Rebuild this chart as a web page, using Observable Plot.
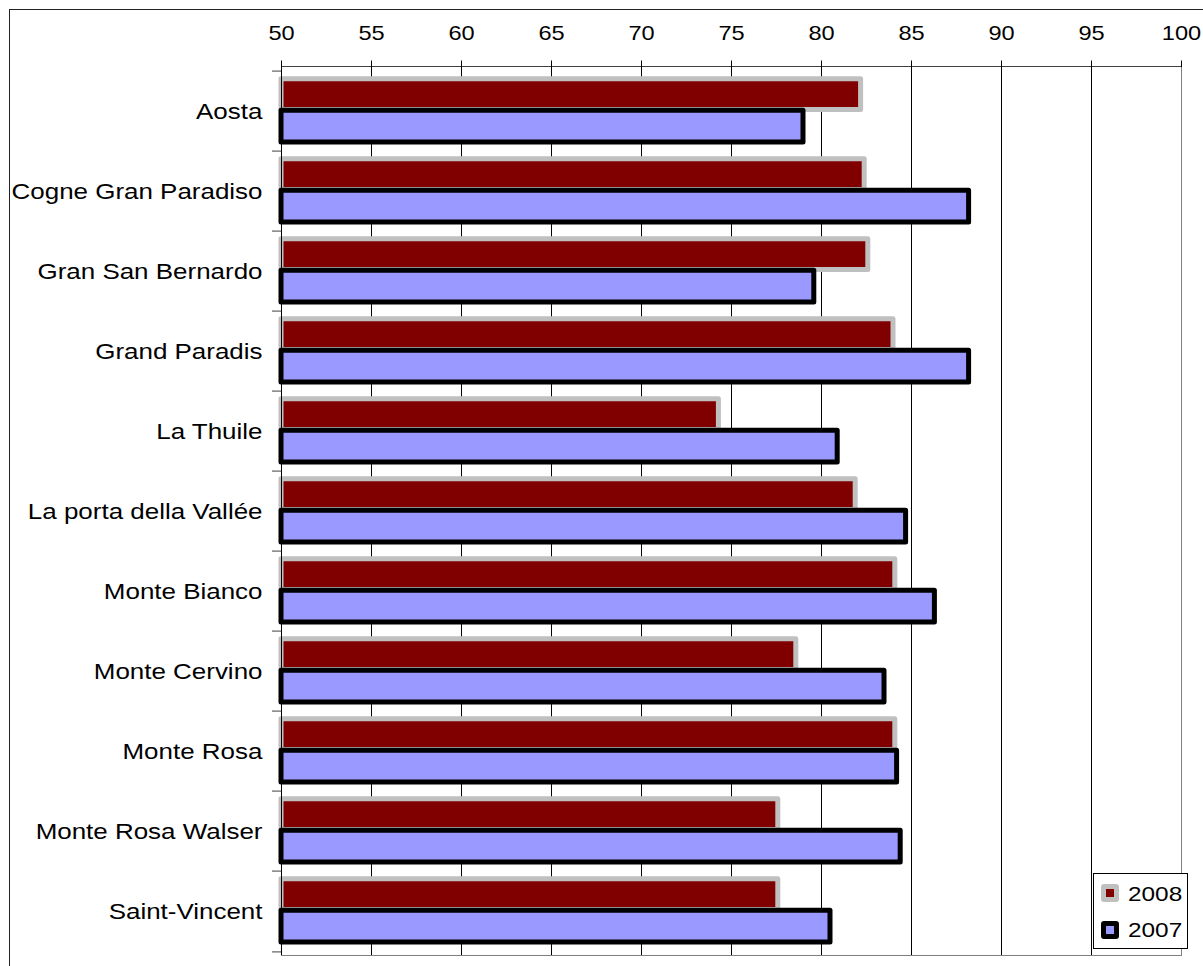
<!DOCTYPE html>
<html>
<head>
<meta charset="utf-8">
<script src="https://cdn.jsdelivr.net/npm/d3@7"></script>
<script src="https://cdn.jsdelivr.net/npm/@observablehq/plot@0.6"></script>
<style>
  html, body { margin: 0; padding: 0; background: #fff; overflow: hidden; }
  #wrap { position: relative; width: 1203px; height: 966px; font-family: "Liberation Sans", Arial, sans-serif; }
  #chart svg { display: block; }
  #border { position: absolute; left: 9px; top: 9px; width: 1300px; height: 1100px; border-top: 1px solid #222; border-left: 1px solid #222; pointer-events: none; }
  #legend { position: absolute; left: 1093px; top: 873px; width: 93px; height: 74px; border: 1px solid #000; background: #fff; }
  .sw { position: absolute; left: 7px; width: 8px; height: 8px; border-width: 5px; border-style: solid; border-radius: 3px; }
  .lt { position: absolute; left: 34px; font-size: 21px; line-height: 21px; color: #000; transform: scaleX(1.16); transform-origin: 0 0; white-space: nowrap; }
</style>
</head>
<body>
<div id="wrap">
  <div id="chart"></div>
  <div id="border"></div>
  <div id="legend"></div>
</div>
<script>
const categories = ["Aosta", "Cogne Gran Paradiso", "Gran San Bernardo", "Grand Paradis", "La Thuile",
  "La porta della Vallée", "Monte Bianco", "Monte Cervino", "Monte Rosa", "Monte Rosa Walser", "Saint-Vincent"];
const values2008 = [82.2, 82.4, 82.6, 84.0, 74.3, 81.9, 84.1, 78.6, 84.1, 77.6, 77.6];
const values2007 = [79.0, 88.2, 79.6, 88.2, 80.9, 84.7, 86.3, 83.5, 84.2, 84.4, 80.5];
const seriesNames = ["2008", "2007"];
const xTicks = [50, 55, 60, 65, 70, 75, 80, 85, 90, 95, 100];

const colors = {"2008": {fill: "#800000", stroke: "#c0c0c0"}, "2007": {fill: "#9999ff", stroke: "#000000"}};

const H = 966, MT = 66, MB = 11;
const band = (H - MT - MB) / categories.length;

const chart = Plot.plot({
  width: 1203,
  height: H,
  marginLeft: 281,
  marginRight: 22,
  marginTop: MT,
  marginBottom: MB,
  style: {fontFamily: "'Liberation Sans', Arial, sans-serif", fontSize: "20px", color: "#000", background: "transparent"},
  x: {domain: [xTicks[0], xTicks[xTicks.length - 1]], axis: null},
  y: {domain: categories, padding: 0, axis: null},
  marks: [
    Plot.gridX(xTicks.slice(1), {stroke: "#000", strokeOpacity: 1, strokeWidth: 1}),
    Plot.barX(categories, {
      y: d => d, x1: () => xTicks[0], x2: (d, i) => values2008[i],
      fill: colors["2008"].fill, stroke: colors["2008"].stroke, strokeWidth: 5, strokeLinejoin: "round",
      insetTop: 7.7, insetBottom: band - 39.3
    }),
    Plot.barX(categories, {
      y: d => d, x1: () => xTicks[0], x2: (d, i) => values2007[i],
      fill: colors["2007"].fill, stroke: colors["2007"].stroke, strokeWidth: 5, strokeLinejoin: "round",
      insetTop: 39.3, insetBottom: band - 71.9
    }),
    Plot.ruleX([xTicks[0]], {stroke: "#000"}),
    Plot.frame({anchor: "right", stroke: "#808080"}),
    Plot.frame({anchor: "bottom", stroke: "#808080"}),
    Plot.frame({anchor: "top", stroke: "#404040"}),
    Plot.axisX(xTicks, {anchor: "top", tickSize: 6.5, tickPadding: 20.5, fontSize: 20, label: null, stroke: "#000"}),
    Plot.axisY({anchor: "left", tickSize: 0, tickPadding: 19, fontSize: 22, label: null}),
    Plot.axisY({anchor: "left", tickSize: 9, tickFormat: () => "", label: null, dy: -band / 2, stroke: "#404040"}),
    Plot.axisY([categories[categories.length - 1]], {anchor: "left", tickSize: 9, tickFormat: () => "", label: null, dy: band / 2, stroke: "#404040"})
  ]
});

document.getElementById("chart").appendChild(chart);

// widen glyphs horizontally (about each label's anchor point) to match the reference rendering
for (const t of chart.querySelectorAll("text")) {
  if (!t.textContent) continue;
  const bb = t.getBBox();
  const anchor = getComputedStyle(t).textAnchor;
  const ax = anchor === "end" ? bb.x + bb.width : anchor === "middle" ? bb.x + bb.width / 2 : bb.x;
  const tr = t.getAttribute("transform") || "";
  t.setAttribute("transform", `${tr} translate(${ax},0) scale(1.18,1) translate(${-ax},0)`);
}

const legend = document.getElementById("legend");
seriesNames.forEach((s, i) => {
  const sw = document.createElement("div");
  sw.className = "sw";
  sw.style.top = (10 + i * 37) + "px";
  sw.style.background = colors[s].fill;
  sw.style.borderColor = colors[s].stroke;
  legend.appendChild(sw);
  const lt = document.createElement("div");
  lt.className = "lt";
  lt.style.top = (9 + i * 36) + "px";
  lt.textContent = s;
  legend.appendChild(lt);
});
</script>
</body>
</html>
